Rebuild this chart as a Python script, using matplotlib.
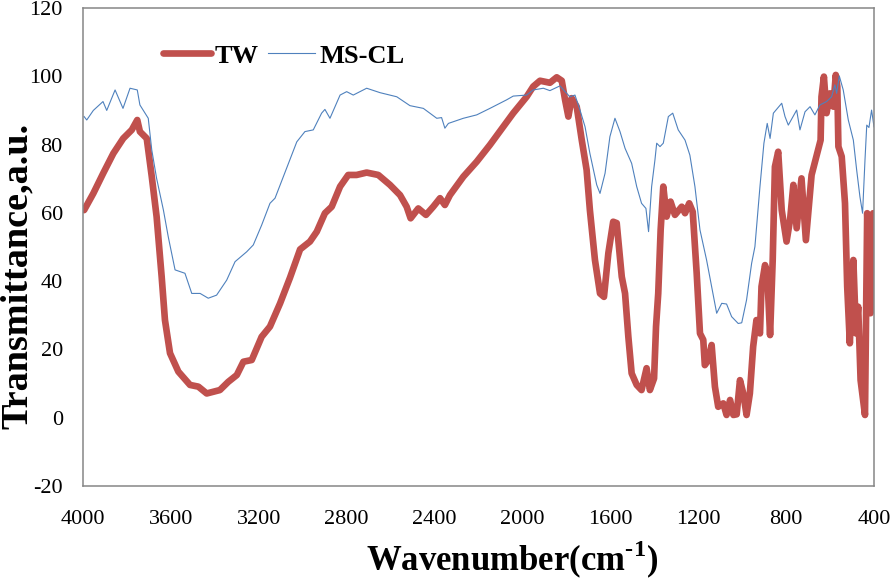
import numpy as np
import matplotlib
matplotlib.use("Agg")
import matplotlib.pyplot as plt

# FTIR spectra (wavenumber in cm-1, transmittance in a.u.)
tw_wavenumber = [
    3995, 3953, 3908, 3862, 3817, 3778, 3753, 3741, 3710, 3687, 3665, 3642,
    3627, 3604, 3566, 3513, 3475, 3437, 3377, 3339, 3300, 3270, 3232, 3187,
    3149, 3103, 3058, 3012, 2967, 2936, 2899, 2868, 2830, 2793, 2755, 2709,
    2656, 2603, 2557, 2527, 2509, 2474, 2439, 2406, 2375, 2353, 2330, 2269,
    2208, 2148, 2090, 2042, 1981, 1951, 1920, 1875, 1844, 1821, 1806, 1791,
    1776, 1753, 1730, 1708, 1693, 1670, 1647, 1629, 1609, 1587, 1571, 1548,
    1533, 1518, 1503, 1480, 1458, 1435, 1420, 1401, 1392, 1382, 1371, 1359,
    1344, 1326, 1306, 1275, 1260, 1241, 1225, 1207, 1192, 1177, 1170, 1154,
    1139, 1124, 1109, 1086, 1071, 1055, 1040, 1025, 1010, 995, 980, 965,
    950, 935, 919, 912, 896, 886, 873, 861, 851, 836, 820, 798,
    782, 767, 752, 730, 710, 684, 653, 643, 639, 628, 616, 600,
    585, 574, 567, 562, 547, 532, 522, 510, 494, 482, 472, 461,
    441, 431, 416, 404,
]
tw_transmittance = [
    60.8, 65.7, 71.6, 77.4, 81.8, 84.3, 87.2, 83.8, 81.8, 70.6, 58.9, 41.3,
    28.6, 18.9, 13.5, 9.6, 9.1, 7.1, 8.1, 10.5, 12.5, 16.4, 16.9, 23.7,
    26.7, 33.5, 41.0, 49.3, 51.6, 54.5, 59.9, 61.8, 67.7, 71.1, 71.1, 71.8,
    71.1, 68.2, 65.2, 61.8, 58.4, 61.3, 59.4, 61.8, 64.3, 62.3, 65.2, 70.6,
    75.0, 79.9, 85.0, 89.2, 94.0, 97.0, 98.7, 98.1, 99.7, 98.7, 93.1, 88.2,
    93.6, 91.1, 81.3, 72.6, 60.8, 46.2, 36.4, 35.4, 48.2, 57.4, 57.0, 41.3,
    36.4, 23.7, 13.0, 9.6, 8.1, 14.5, 8.1, 11.5, 26.7, 36.4, 55.0, 67.7,
    58.9, 63.3, 59.4, 61.8, 59.9, 62.8, 60.3, 42.3, 24.7, 22.8, 15.4, 16.9,
    21.3, 9.1, 3.2, 4.2, 0.8, 5.2, 0.8, 1.0, 11.0, 7.1, 0.8, 7.1,
    20.8, 28.6, 24.7, 38.4, 44.7, 42.3, 24.2, 46.2, 73.5, 77.9, 60.8, 51.6,
    57.9, 68.2, 55.5, 70.1, 52.0, 71.1, 78.9, 81.3, 94.0, 99.9, 89.2, 95.0,
    91.1, 100.4, 97.0, 79.4, 76.5, 62.8, 38.4, 21.8, 46.2, 24.7, 32.5, 11.0,
    0.8, 59.9, 30.6, 59.9,
]

mscl_wavenumber = [
    3995, 3983, 3953, 3909, 3892, 3854, 3818, 3786, 3753, 3741, 3703, 3687,
    3665, 3634, 3612, 3581, 3536, 3505, 3467, 3430, 3392, 3346, 3308, 3255,
    3225, 3187, 3149, 3126, 3088, 3058, 3027, 2990, 2952, 2914, 2899, 2876,
    2830, 2800, 2770, 2709, 2648, 2572, 2512, 2451, 2390, 2368, 2353, 2337,
    2269, 2208, 2148, 2072, 2042, 1981, 1951, 1905, 1875, 1852, 1829, 1806,
    1784, 1761, 1738, 1715, 1693, 1662, 1647, 1624, 1602, 1579, 1556, 1533,
    1503, 1480, 1458, 1438, 1426, 1412, 1397, 1389, 1374, 1359, 1336, 1316,
    1291, 1260, 1238, 1215, 1192, 1162, 1139, 1116, 1093, 1071, 1048, 1018,
    1002, 980, 957, 942, 919, 901, 886, 873, 858, 820, 805, 790,
    752, 737, 714, 691, 669, 646, 616, 593, 578, 570, 558, 540,
    517, 494, 479, 464, 452, 441, 433, 423, 411, 400,
]
mscl_transmittance = [
    88.2, 87.2, 90.0, 92.6, 90.0, 96.0, 90.6, 96.5, 96.0, 91.6, 87.7, 78.4,
    70.1, 60.8, 53.0, 43.3, 42.3, 36.4, 36.4, 35.0, 35.9, 40.3, 45.7, 48.6,
    50.6, 56.4, 62.8, 64.3, 70.6, 75.5, 80.8, 83.8, 84.3, 89.2, 90.3, 87.7,
    94.5, 95.5, 94.5, 96.5, 95.2, 94.0, 91.4, 90.6, 87.7, 87.9, 84.8, 86.2,
    87.7, 88.7, 90.6, 93.1, 94.2, 94.5, 96.0, 96.5, 95.8, 96.5, 97.2, 95.5,
    94.0, 94.5, 90.1, 85.2, 77.4, 68.2, 65.7, 71.6, 82.3, 87.7, 83.8, 78.9,
    74.5, 67.7, 62.8, 61.3, 54.5, 67.7, 75.5, 80.4, 79.4, 80.4, 88.2, 89.2,
    84.3, 81.3, 76.9, 67.7, 55.0, 46.2, 38.4, 30.6, 33.5, 33.3, 29.6, 27.6,
    27.8, 34.5, 45.2, 50.1, 67.7, 80.4, 86.2, 81.8, 89.2, 92.1, 88.2, 85.7,
    90.1, 84.3, 89.6, 91.1, 88.7, 91.6, 92.6, 94.0, 97.5, 95.0, 100.1, 96.0,
    87.2, 81.3, 72.6, 64.7, 59.9, 75.5, 85.7, 85.0, 90.1, 85.2,
]

x_ticks = [4000, 3600, 3200, 2800, 2400, 2000, 1600, 1200, 800, 400]
y_ticks = [-20, 0, 20, 40, 60, 80, 100, 120]

plt.rcParams['font.family'] = ['Liberation Serif', 'DejaVu Serif']
plt.rcParams['mathtext.fontset'] = 'custom'
plt.rcParams['mathtext.rm'] = 'Liberation Serif:bold'
plt.rcParams['mathtext.bf'] = 'Liberation Serif:bold'
plt.rcParams['axes.unicode_minus'] = False

fig = plt.figure(figsize=(8.94, 5.81), dpi=100)
ax = fig.add_axes([83 / 894, 1 - 486 / 581, 791 / 894, 478 / 581])

ax.plot(tw_wavenumber, tw_transmittance, color='#C0504D', lw=4.8,
        solid_joinstyle='round', solid_capstyle='round', label='TW')
ax.plot(mscl_wavenumber, mscl_transmittance, color='#4F81BD', lw=0.8,
        label='MS-CL')

ax.set_xlim(4000, 400)
ax.set_ylim(-20, 120)
ax.set_xticks(x_ticks)
ax.set_yticks(y_ticks)
ax.tick_params(length=0, labelsize=16)
ax.tick_params(axis='y', pad=14.5)
ax.tick_params(axis='x', pad=17)

for s in ax.spines.values():
    s.set_color('#868686')
    s.set_linewidth(1.1)

ax.set_xlabel(r'Wavenumber(cm$^{\text{-1}}$)', fontsize=25, fontweight='bold')
ax.set_ylabel('Transmittance,a.u.', fontsize=27.5, fontweight='bold')
ax.xaxis.set_label_coords((512 - 83) / 791, (486 - 560) / 478)
ax.xaxis.label.set_va('center')
ax.yaxis.set_label_coords((17 - 83) / 791, (486 - 276) / 478)
ax.yaxis.label.set_va('center')

leg = ax.legend(loc='center left', bbox_to_anchor=(163 / 894, 1 - 56 / 581),
                bbox_transform=fig.transFigure, ncol=2, frameon=False,
                borderpad=0, borderaxespad=0, handlelength=1.8,
                handletextpad=0.15, columnspacing=0.35,
                prop={'weight': 'bold', 'size': 19})

fig.savefig('out.png', dpi=100)
